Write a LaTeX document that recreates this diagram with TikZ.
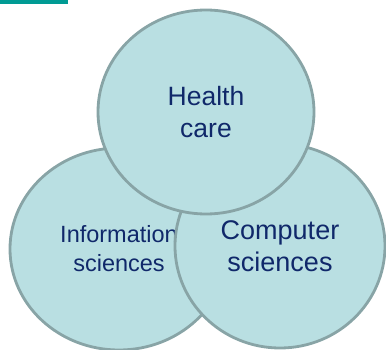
\documentclass[tikz,border=0pt]{standalone}
\usepackage{fontspec}
\setmainfont{Liberation Sans}
\usetikzlibrary{shapes.geometric}
\definecolor{vennfill}{HTML}{B9DFE2}
\definecolor{venndraw}{HTML}{88A4A6}
\definecolor{venntext}{HTML}{10286A}
\definecolor{barteal}{HTML}{009B94}

\begin{document}
\begin{tikzpicture}[x=1pt,y=-1pt,
    venn/.style={ellipse, draw=venndraw, fill=vennfill, line width=2.8pt,
      inner sep=0pt, text=venntext, align=center, minimum height=202pt}]
    % frame of the slide
    \clip (0,0) rectangle (386,350);
    % teal bar at the top
    \fill[barteal] (0,0) rectangle (68,4);

    % three overlapping circles
    \node[venn, minimum width=218pt, font=\fontsize{23.5}{29}\selectfont]
      (info) at (119,249) {Information\\sciences};
    \node[venn, minimum width=210pt, minimum height=204pt, font=\fontsize{27}{32}\selectfont]
      (comp) at (280,246) {Computer\\sciences};
    \node[venn, minimum width=216pt, minimum height=204pt, font=\fontsize{26.5}{32}\selectfont]
      (health) at (206,112) {Health\\care};
\end{tikzpicture}
\end{document}
